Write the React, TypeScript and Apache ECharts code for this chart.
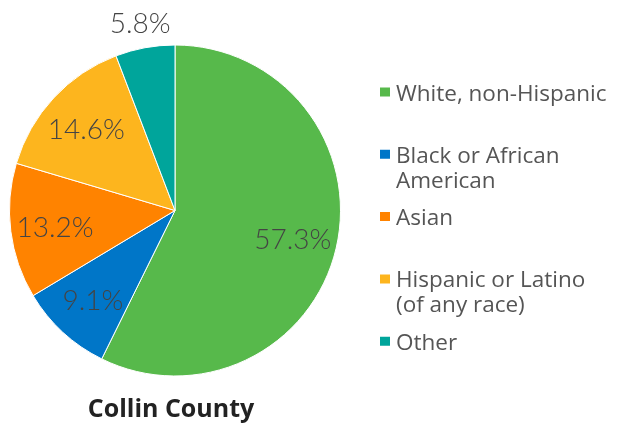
import React, { useEffect, useRef } from "react";
import * as echarts from "echarts";

const categories = [
  "White, non-Hispanic",
  "Black or African American",
  "Asian",
  "Hispanic or Latino (of any race)",
  "Other",
];
const legendLabels = [
  "White, non-Hispanic",
  "\nBlack or African\nAmerican",
  "Asian",
  "\nHispanic or Latino\n(of any race)",
  "Other",
];
const values = [57.3, 9.1, 13.2, 14.6, 5.8];
const colors = ["#57B94B", "#0076C8", "#FF8300", "#FDB51E", "#00A59B"];
const outsideLabel = [false, false, false, false, true];
const titleText = "Collin County";

const LABEL_FONT = "Lato";
const TEXT_FONT = "Open Sans";

export default function App() {
  const ref = useRef<HTMLDivElement>(null);
  useEffect(() => {
    if (!ref.current) return;
    const chart = echarts.init(ref.current, null, { renderer: "svg" });
    const cx = 175;
    const cy = 210.5;
    const r = 165.5;
    const labelStyle = {
      color: "#444",
      fontFamily: LABEL_FONT,
      fontSize: 28,
      fontWeight: 300 as any,
    };
    const fmt = (p: any) => `${Number(p.value).toFixed(1)}%`;
    chart.setOption({
      animation: false,
      title: {
        text: titleText,
        left: 171,
        top: 394,
        padding: 0,
        textAlign: "center",
        textStyle: {
          fontFamily: TEXT_FONT,
          fontSize: 25,
          lineHeight: 25,
          fontWeight: "bold",
          color: "#222",
        },
      },
      legend: {
        orient: "vertical",
        left: 378,
        top: 79.5,
        padding: 0,
        itemWidth: 12,
        itemHeight: 11,
        itemGap: 12.3,
        icon: "rect",
        selectedMode: false,
        formatter: (name: string) => legendLabels[categories.indexOf(name)],
        textStyle: {
          fontFamily: TEXT_FONT,
          fontSize: 22.5,
          lineHeight: 25,
          color: "#555",
        },
        data: categories,
      },
      series: [
        {
          type: "pie",
          center: [cx, cy],
          radius: r,
          startAngle: 90,
          clockwise: true,
          label: { show: false },
          labelLine: { show: false },
          itemStyle: { borderColor: "#fff", borderWidth: 1 },
          emphasis: { disabled: true },
          data: categories.map((name, i) => ({
            name,
            value: values[i],
            itemStyle: { color: colors[i] },
          })),
        },
        {
          type: "pie",
          center: [cx, cy],
          radius: 236,
          startAngle: 90,
          clockwise: true,
          silent: true,
          itemStyle: { color: "transparent", borderWidth: 0 },
          labelLine: { show: false },
          label: { position: "inside", formatter: fmt, ...labelStyle },
          data: categories.map((name, i) => ({
            name,
            value: values[i],
            label: { show: !outsideLabel[i] },
          })),
        },
        {
          type: "pie",
          center: [cx, cy],
          radius: 378,
          startAngle: 90,
          clockwise: true,
          silent: true,
          itemStyle: { color: "transparent", borderWidth: 0 },
          labelLine: { show: false },
          label: { position: "inside", formatter: fmt, ...labelStyle },
          data: categories.map((name, i) => ({
            name,
            value: values[i],
            label: { show: outsideLabel[i] },
          })),
        },
      ],
    });
    return () => chart.dispose();
  }, []);
  return (
    <div
      ref={ref}
      style={{ position: "fixed", left: 0, top: 0, width: 617, height: 423 }}
    />
  );
}
